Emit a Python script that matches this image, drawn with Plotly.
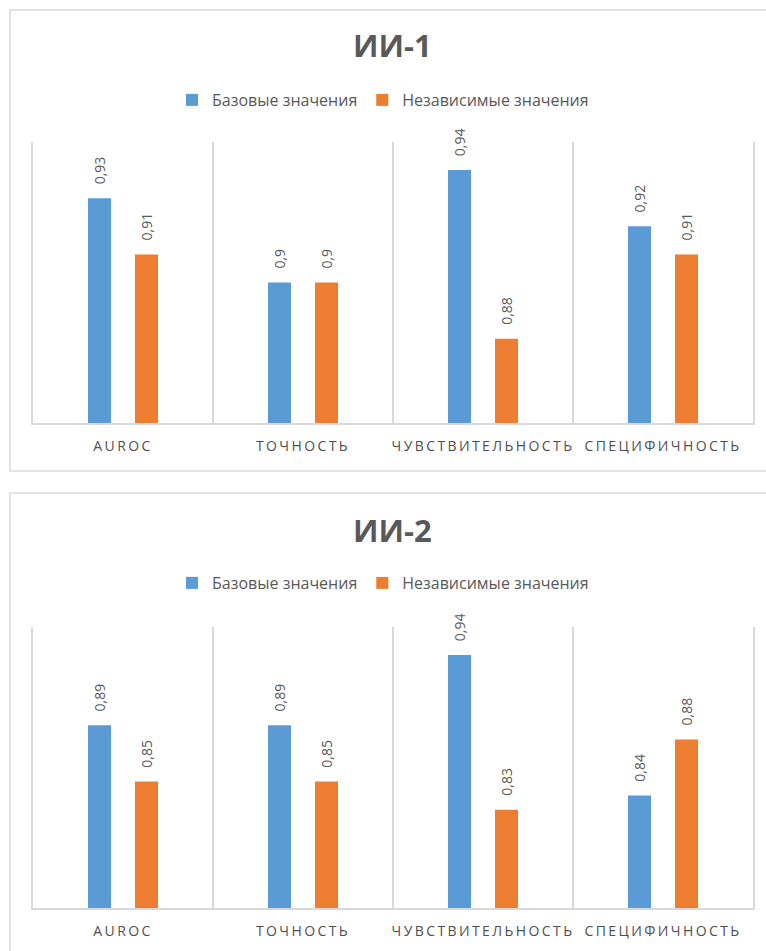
import plotly.graph_objects as go

# Metrics shown on the category axis
categories = ["AUROC", "ТОЧНОСТЬ", "ЧУВСТВИТЕЛЬНОСТЬ", "СПЕЦИФИЧНОСТЬ"]
series_names = ["Базовые значения", "Независимые значения"]

# Model ИИ-1
ai1_base = [0.93, 0.90, 0.94, 0.92]
ai1_indep = [0.91, 0.90, 0.88, 0.91]

# Model ИИ-2
ai2_base = [0.89, 0.89, 0.94, 0.84]
ai2_indep = [0.85, 0.85, 0.83, 0.88]

chart_titles = ["ИИ-1", "ИИ-2"]

BLUE = "#5B9BD5"
ORANGE = "#ED7D31"
TEXT = "#595959"
GRID = "#D9D9D9"
FONT = "Open Sans"

W, H = 766, 951


def py(px):
    """Convert a pixel row (from top) to paper y."""
    return 1 - px / H


def px_x(px):
    return px / W


def label(v):
    # leading no-break spaces keep the rotated label clear of the bar top
    return "\u00a0\u00a0\u00a0" + f"{v:g}".replace(".", ",")


fig = go.Figure()

panels = [
    (ai1_base, ai1_indep, "x", "y", "legend"),
    (ai2_base, ai2_indep, "x2", "y2", "legend2"),
]
for base, indep, xa, ya, lg in panels:
    for vals, name, color in ((base, series_names[0], BLUE), (indep, series_names[1], ORANGE)):
        fig.add_trace(go.Bar(
            x=categories, y=vals, name=name,
            marker=dict(color=color, line=dict(width=0)),
            text=[label(v) for v in vals],
            textposition="outside", textangle=-90,
            textfont=dict(family=FONT, size=14, color=TEXT),
            constraintext="none", cliponaxis=False,
            xaxis=xa, yaxis=ya, legend=lg,
        ))

tick_text = [f'<span style="letter-spacing:2.4px">{c}</span>' for c in categories]

xdom = [px_x(33), px_x(753)]
common_x = dict(
    type="category", categoryorder="array", categoryarray=categories,
    tickvals=categories, ticktext=tick_text, tickangle=0, automargin=False,
    tickson="boundaries", ticks="", showgrid=True, gridcolor=GRID, gridwidth=1.5,
    showline=True, linecolor=GRID, linewidth=1.5,
    tickfont=dict(family=FONT, size=14, color="#505050"),
    ticklabelstandoff=9, domain=xdom, range=[-0.5, 3.5], fixedrange=True,
)
# y axes are hidden apart from their lines, which frame the plot sides
common_y = dict(showticklabels=False, ticks="", showgrid=False, zeroline=False,
                showline=True, mirror=True, linecolor=GRID, linewidth=1.5,
                fixedrange=True, automargin=False)

legend_style = dict(orientation="h", x=0.5, xanchor="center", yanchor="middle",
                    font=dict(family=FONT, size=16, color=TEXT), itemclick=False,
                    itemwidth=30, bgcolor="rgba(0,0,0,0)")

fig.update_layout(
    width=W, height=H,
    margin=dict(l=0, r=0, t=0, b=0, autoexpand=False),
    paper_bgcolor="white", plot_bgcolor="white",
    barmode="group", bargap=0.478, bargroupgap=0.51,
    font=dict(family=FONT, color=TEXT),
    xaxis=dict(common_x, anchor="y"),
    yaxis=dict(common_y, domain=[py(423), py(142)], range=[0.85, 0.95], anchor="x"),
    xaxis2=dict(common_x, anchor="y2"),
    yaxis2=dict(common_y, domain=[py(908), py(627)], range=[0.76, 0.96], anchor="x2"),
    legend=dict(legend_style, y=py(100)),
    legend2=dict(legend_style, y=py(583)),
    showlegend=True,
)

# Chart frames
for top, bottom in ((10, 471), (493, 960)):
    fig.add_shape(type="rect", xref="paper", yref="paper",
                  x0=px_x(10), x1=1.02, y0=py(bottom), y1=py(top),
                  line=dict(color=GRID, width=1.5), fillcolor="rgba(0,0,0,0)",
                  layer="below")

# Chart titles
for title, cy in zip(chart_titles, (45, 530)):
    fig.add_annotation(text=f"<b>{title}</b>", xref="paper", yref="paper",
                       x=px_x(392), y=py(cy), xanchor="center", yanchor="middle",
                       showarrow=False, font=dict(family=FONT, size=31, color=TEXT))

fig.write_html("out.html")
